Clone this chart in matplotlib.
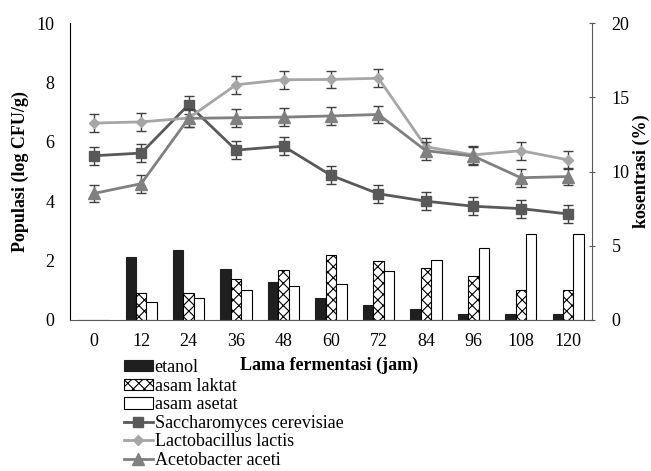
import matplotlib
matplotlib.use("Agg")
import matplotlib.pyplot as plt
import numpy as np

plt.rcParams['font.family'] = ['Liberation Serif', 'DejaVu Serif']
plt.rcParams['hatch.linewidth'] = 0.8

hours = ["0", "12", "24", "36", "48", "60", "72", "84", "96", "108", "120"]

# concentrations (%) - right axis
etanol = [0, 4.27, 4.73, 3.44, 2.56, 1.51, 1.0, 0.73, 0.4, 0.4, 0.4]
asam_laktat = [0, 1.82, 1.82, 2.78, 3.38, 4.38, 4.0, 3.49, 2.98, 2.0, 2.0]
asam_asetat = [0, 1.22, 1.51, 2.0, 2.31, 2.42, 3.27, 4.07, 4.85, 5.82, 5.82]

# populations (log CFU/g) - left axis
sacch = [5.53, 5.62, 7.25, 5.72, 5.85, 4.87, 4.25, 4.0, 3.83, 3.75, 3.57]
lacto = [6.63, 6.67, 6.80, 7.92, 8.09, 8.10, 8.14, 5.83, 5.56, 5.70, 5.39]
aceto = [4.26, 4.59, 6.79, 6.81, 6.83, 6.87, 6.92, 5.70, 5.52, 4.79, 4.83]
err = 0.3

x = np.arange(len(hours))
FS = 13

fig = plt.figure(figsize=(6.51, 4.71), dpi=100)
ax = fig.add_axes([70/651, 1-320/471, 522/651, 297/471])
ax2 = ax.twinx()

w = 0.22
b1 = ax2.bar(x - w, etanol, w, color='#1f1f1f', edgecolor='#1f1f1f', linewidth=0.8, label='etanol')
b2 = ax2.bar(x, asam_laktat, w, color='white', edgecolor='black', hatch='xxx', linewidth=0.8, label='asam laktat')
b3 = ax2.bar(x + w, asam_asetat, w, color='white', edgecolor='black', linewidth=0.8, label='asam asetat')
ax2.set_ylim(0, 20)
ax2.set_yticks([0, 5, 10, 15, 20])

ax.set_zorder(ax2.get_zorder() + 1)
ax.patch.set_visible(False)

styles = [
    (sacch, '#595959', 's', 7, 'Saccharomyces cerevisiae'),
    (lacto, '#a6a6a6', 'D', 5.5, 'Lactobacillus lactis'),
    (aceto, '#808080', '^', 8, 'Acetobacter aceti'),
]
line_handles = []
for vals, col, mk, ms, lab in styles:
    ax.errorbar(x, vals, yerr=err, fmt='none', ecolor='#404040', elinewidth=1, capsize=3.5, capthick=1)
    h, = ax.plot(x, vals, color=col, marker=mk, markersize=ms, linewidth=2, label=lab)
    line_handles.append(h)

ax.set_ylim(0, 10)
ax.set_yticks([0, 2, 4, 6, 8, 10])
ax.set_xlim(-0.5, len(hours) - 0.5)
ax.set_xticks(x)
ax.set_xticklabels(hours)

ax.tick_params(axis='x', length=0, pad=9, labelsize=FS)
ax.tick_params(axis='y', length=0, pad=11, labelsize=FS)
ax2.tick_params(axis='y', direction='inout', length=4, pad=12, labelsize=FS, color='#595959')

for a in (ax, ax2):
    a.spines['top'].set_visible(False)
ax.spines['right'].set_visible(False)
ax.spines['left'].set_color('black')
ax.spines['bottom'].set_color('#595959')
ax2.spines['left'].set_visible(False)
ax2.spines['bottom'].set_visible(False)
ax2.spines['right'].set_color('#595959')

fig.text(20/651, 1-171.5/471, 'Populasi (log CFU/g)', rotation=90, ha='center', va='center',
         fontsize=FS, fontweight='bold')
fig.text(641/651, 1-171.5/471, 'kosentrasi (%)', rotation=90, ha='center', va='center',
         fontsize=FS, fontweight='bold')
fig.text(329/651, 1-365/471, 'Lama fermentasi (jam)', ha='center', va='center',
         fontsize=FS, fontweight='bold')

handles = [b1, b2, b3] + line_handles
labels = ['etanol', 'asam laktat', 'asam asetat', 'Saccharomyces cerevisiae',
          'Lactobacillus lactis', 'Acetobacter aceti']
fig.legend(handles, labels, loc='upper left', bbox_to_anchor=(124/651, 1-359/471),
           frameon=False, fontsize=FS, borderpad=0, borderaxespad=0,
           handlelength=1.6, handletextpad=0.1, labelspacing=0.09, handleheight=0.6)

fig.savefig('out.png', dpi=100)
